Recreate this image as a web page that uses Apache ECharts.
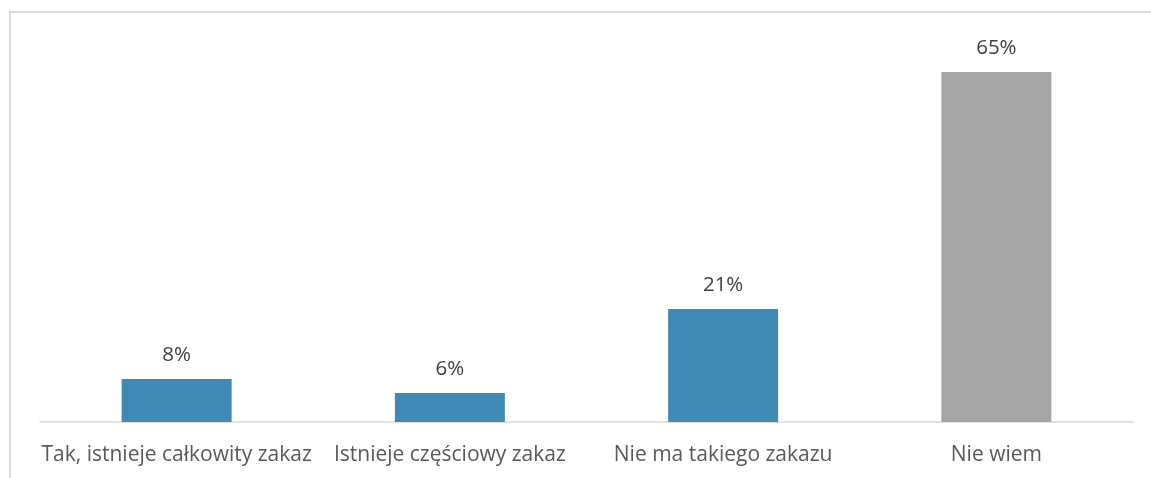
<!DOCTYPE html>
<html>
<head>
<meta charset="utf-8">
<script src="https://cdn.jsdelivr.net/npm/echarts@6/dist/echarts.min.js"></script>
<style>
  html, body { margin: 0; padding: 0; background: #fff; }
  #chart { width: 1151px; height: 478px; }
</style>
</head>
<body>
<div id="chart"></div>
<script>
var categories = ['Tak, istnieje całkowity zakaz', 'Istnieje częściowy zakaz', 'Nie ma takiego zakazu', 'Nie wiem'];
// heights; the printed labels are the rounded percentages
var values = [8, 5.4, 21, 65];
var valueLabels = ['8%', '6%', '21%', '65%'];
var barColors = ['#3f8ab4', '#3f8ab4', '#3f8ab4', '#a5a5a5'];

var myChart = echarts.init(document.getElementById('chart'));

var seriesData = [];
for (var i = 0; i < values.length; i++) {
    seriesData.push({
        value: values[i],
        itemStyle: { color: barColors[i] }
    });
}

myChart.setOption({
    animation: false,
    textStyle: { fontFamily: 'Open Sans' },
    graphic: [
        {
            type: 'rect',
            shape: { x: 10, y: 12, width: 1300, height: 700 },
            style: { fill: 'none', stroke: '#d9d9d9', lineWidth: 2 },
            silent: true
        }
    ],
    grid: {
        left: 40,
        right: 18,
        top: 45,
        bottom: 56
    },
    xAxis: {
        type: 'category',
        data: categories,
        axisLine: { lineStyle: { color: '#d9d9d9', width: 1.5 } },
        axisTick: { show: false },
        axisLabel: {
            color: '#595959',
            fontSize: 21,
            margin: 22.5,
            interval: 0
        }
    },
    yAxis: {
        type: 'value',
        min: 0,
        max: 70,
        show: false,
        splitLine: { show: false }
    },
    series: [
        {
            type: 'bar',
            barWidth: 110,
            data: seriesData,
            label: {
                show: true,
                position: 'top',
                distance: 13,
                color: '#404040',
                fontSize: 20.5,
                formatter: function (p) { return valueLabels[p.dataIndex]; }
            }
        }
    ]
});
</script>
</body>
</html>
